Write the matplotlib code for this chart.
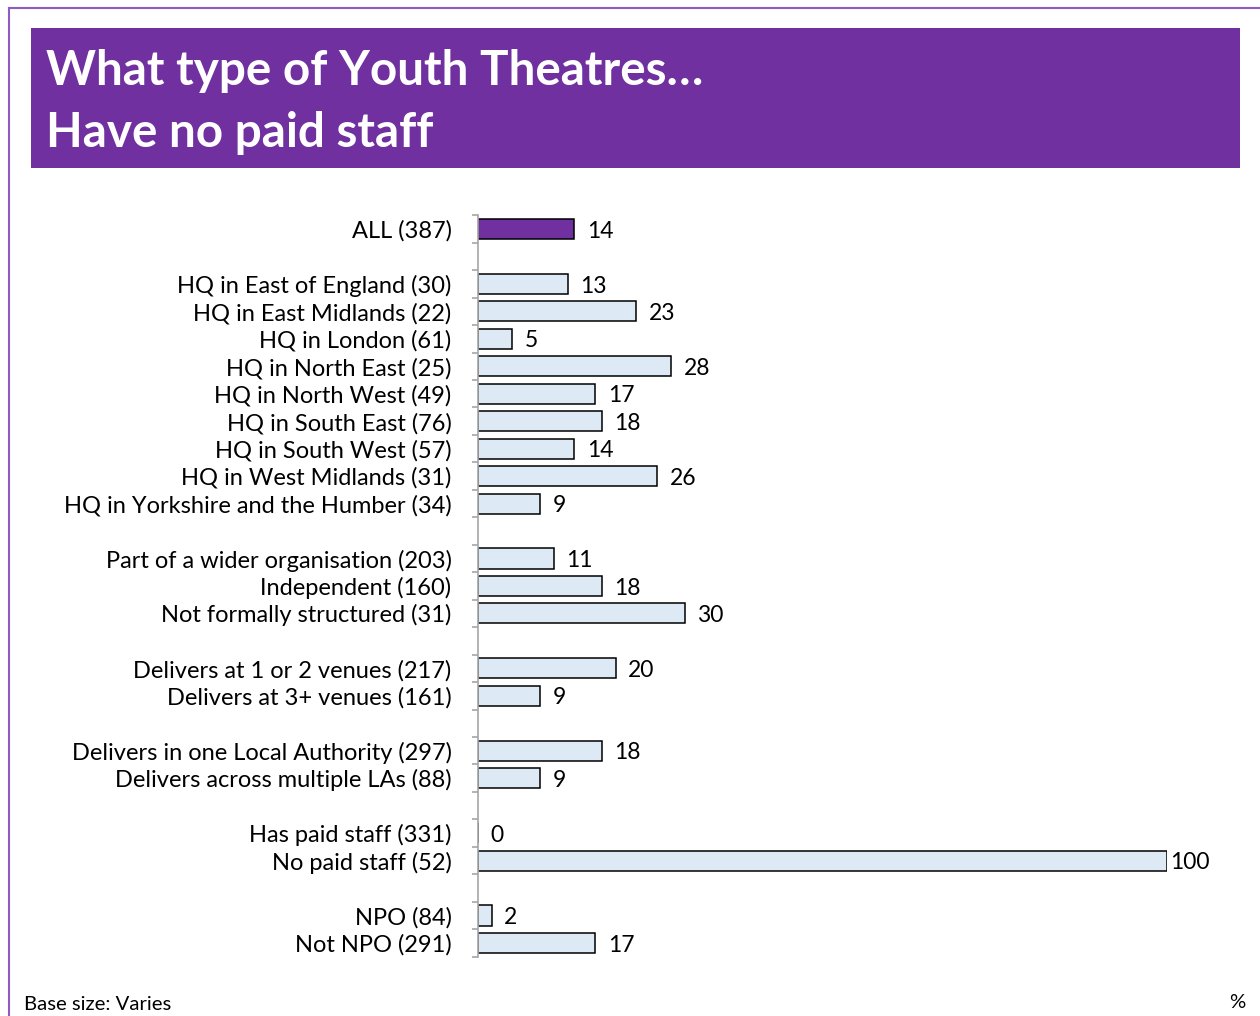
import numpy as np
import matplotlib.pyplot as plt
from matplotlib.patches import Rectangle
from matplotlib.lines import Line2D

plt.rcParams['font.family'] = ['Lato', 'DejaVu Sans']

# Rows top to bottom; None marks a blank spacer row between groups
categories = [
    "ALL (387)", None,
    "HQ in East of England (30)", "HQ in East Midlands (22)", "HQ in London (61)",
    "HQ in North East (25)", "HQ in North West (49)", "HQ in South East (76)",
    "HQ in South West (57)", "HQ in West Midlands (31)",
    "HQ in Yorkshire and the Humber (34)", None,
    "Part of a wider organisation (203)", "Independent (160)",
    "Not formally structured (31)", None,
    "Delivers at 1 or 2 venues (217)", "Delivers at 3+ venues (161)", None,
    "Delivers in one Local Authority (297)", "Delivers across multiple LAs (88)", None,
    "Has paid staff (331)", "No paid staff (52)", None,
    "NPO (84)", "Not NPO (291)",
]
values = [
    14, None,
    13, 23, 5, 28, 17, 18, 14, 26, 9, None,
    11, 18, 30, None,
    20, 9, None,
    18, 9, None,
    0, 100, None,
    2, 17,
]

purple = "#7030A0"
light_blue = "#DDE9F5"

fig = plt.figure(figsize=(12.6, 10.16), dpi=100)
W, H = 1260, 1016

# outer frame lines (left and top)
fig.add_artist(Line2D([9 / W, 9 / W], [0, 1 - 8 / H], color="#8E5CC0", lw=1.5))
fig.add_artist(Line2D([9 / W, 1], [1 - 8 / H, 1 - 8 / H], color="#8E5CC0", lw=1.5))

# title banner
fig.add_artist(Rectangle((31 / W, 1 - 168 / H), (1240 - 31) / W, 140 / H,
                         transform=fig.transFigure, facecolor=purple, edgecolor="none"))
fig.text(46 / W, 1 - 71 / H, "What type of Youth Theatres…", color="white",
         fontsize=34.3, fontweight="bold", va="center", ha="left")
fig.text(46 / W, 1 - 133 / H, "Have no paid staff", color="white",
         fontsize=34.3, fontweight="bold", va="center", ha="left")

n = len(categories)
slot = 27.46
top_px = 229 - slot / 2
bottom_px = top_px + slot * n
ax = fig.add_axes([478 / W, 1 - bottom_px / H, (1167 - 478) / W, (bottom_px - top_px) / H])

ypos = np.arange(n)
for y, cat, v in zip(ypos, categories, values):
    if v is None:
        continue
    color = purple if y == 0 else light_blue
    ax.barh(y, v, height=0.73, color=color, edgecolor="black", linewidth=1.1)
    # the 100 label sits tight against the bar end
    dx = 2 if v >= 100 else 9
    ax.annotate(str(v), xy=(v, y), xytext=(dx, -1.5), textcoords="offset points",
                va="center", ha="left", fontsize=16.5, color="black")

ax.set_xlim(0, 100)
ax.set_ylim(n - 0.5, -0.5)

ax.set_yticks(ypos)
ax.set_yticklabels([c if c else "" for c in categories], fontsize=17)
ax.tick_params(axis="y", which="major", length=0, pad=19)
ax.set_yticks(np.arange(n + 1) - 0.5, minor=True)
ax.tick_params(axis="y", which="minor", length=4, color="#A6A6A6", width=1.2)
ax.set_xticks([])

for side in ["top", "right", "bottom"]:
    ax.spines[side].set_visible(False)
ax.spines["left"].set_color("#A6A6A6")
ax.spines["left"].set_linewidth(1.2)

fig.text(24 / W, 1 - 1004 / H, "Base size: Varies", fontsize=14.6, va="center", ha="left")
fig.text(1237 / W, 1 - 1003 / H, "%", fontsize=14.6, va="center", ha="center")

fig.savefig("out.png", dpi=100)
